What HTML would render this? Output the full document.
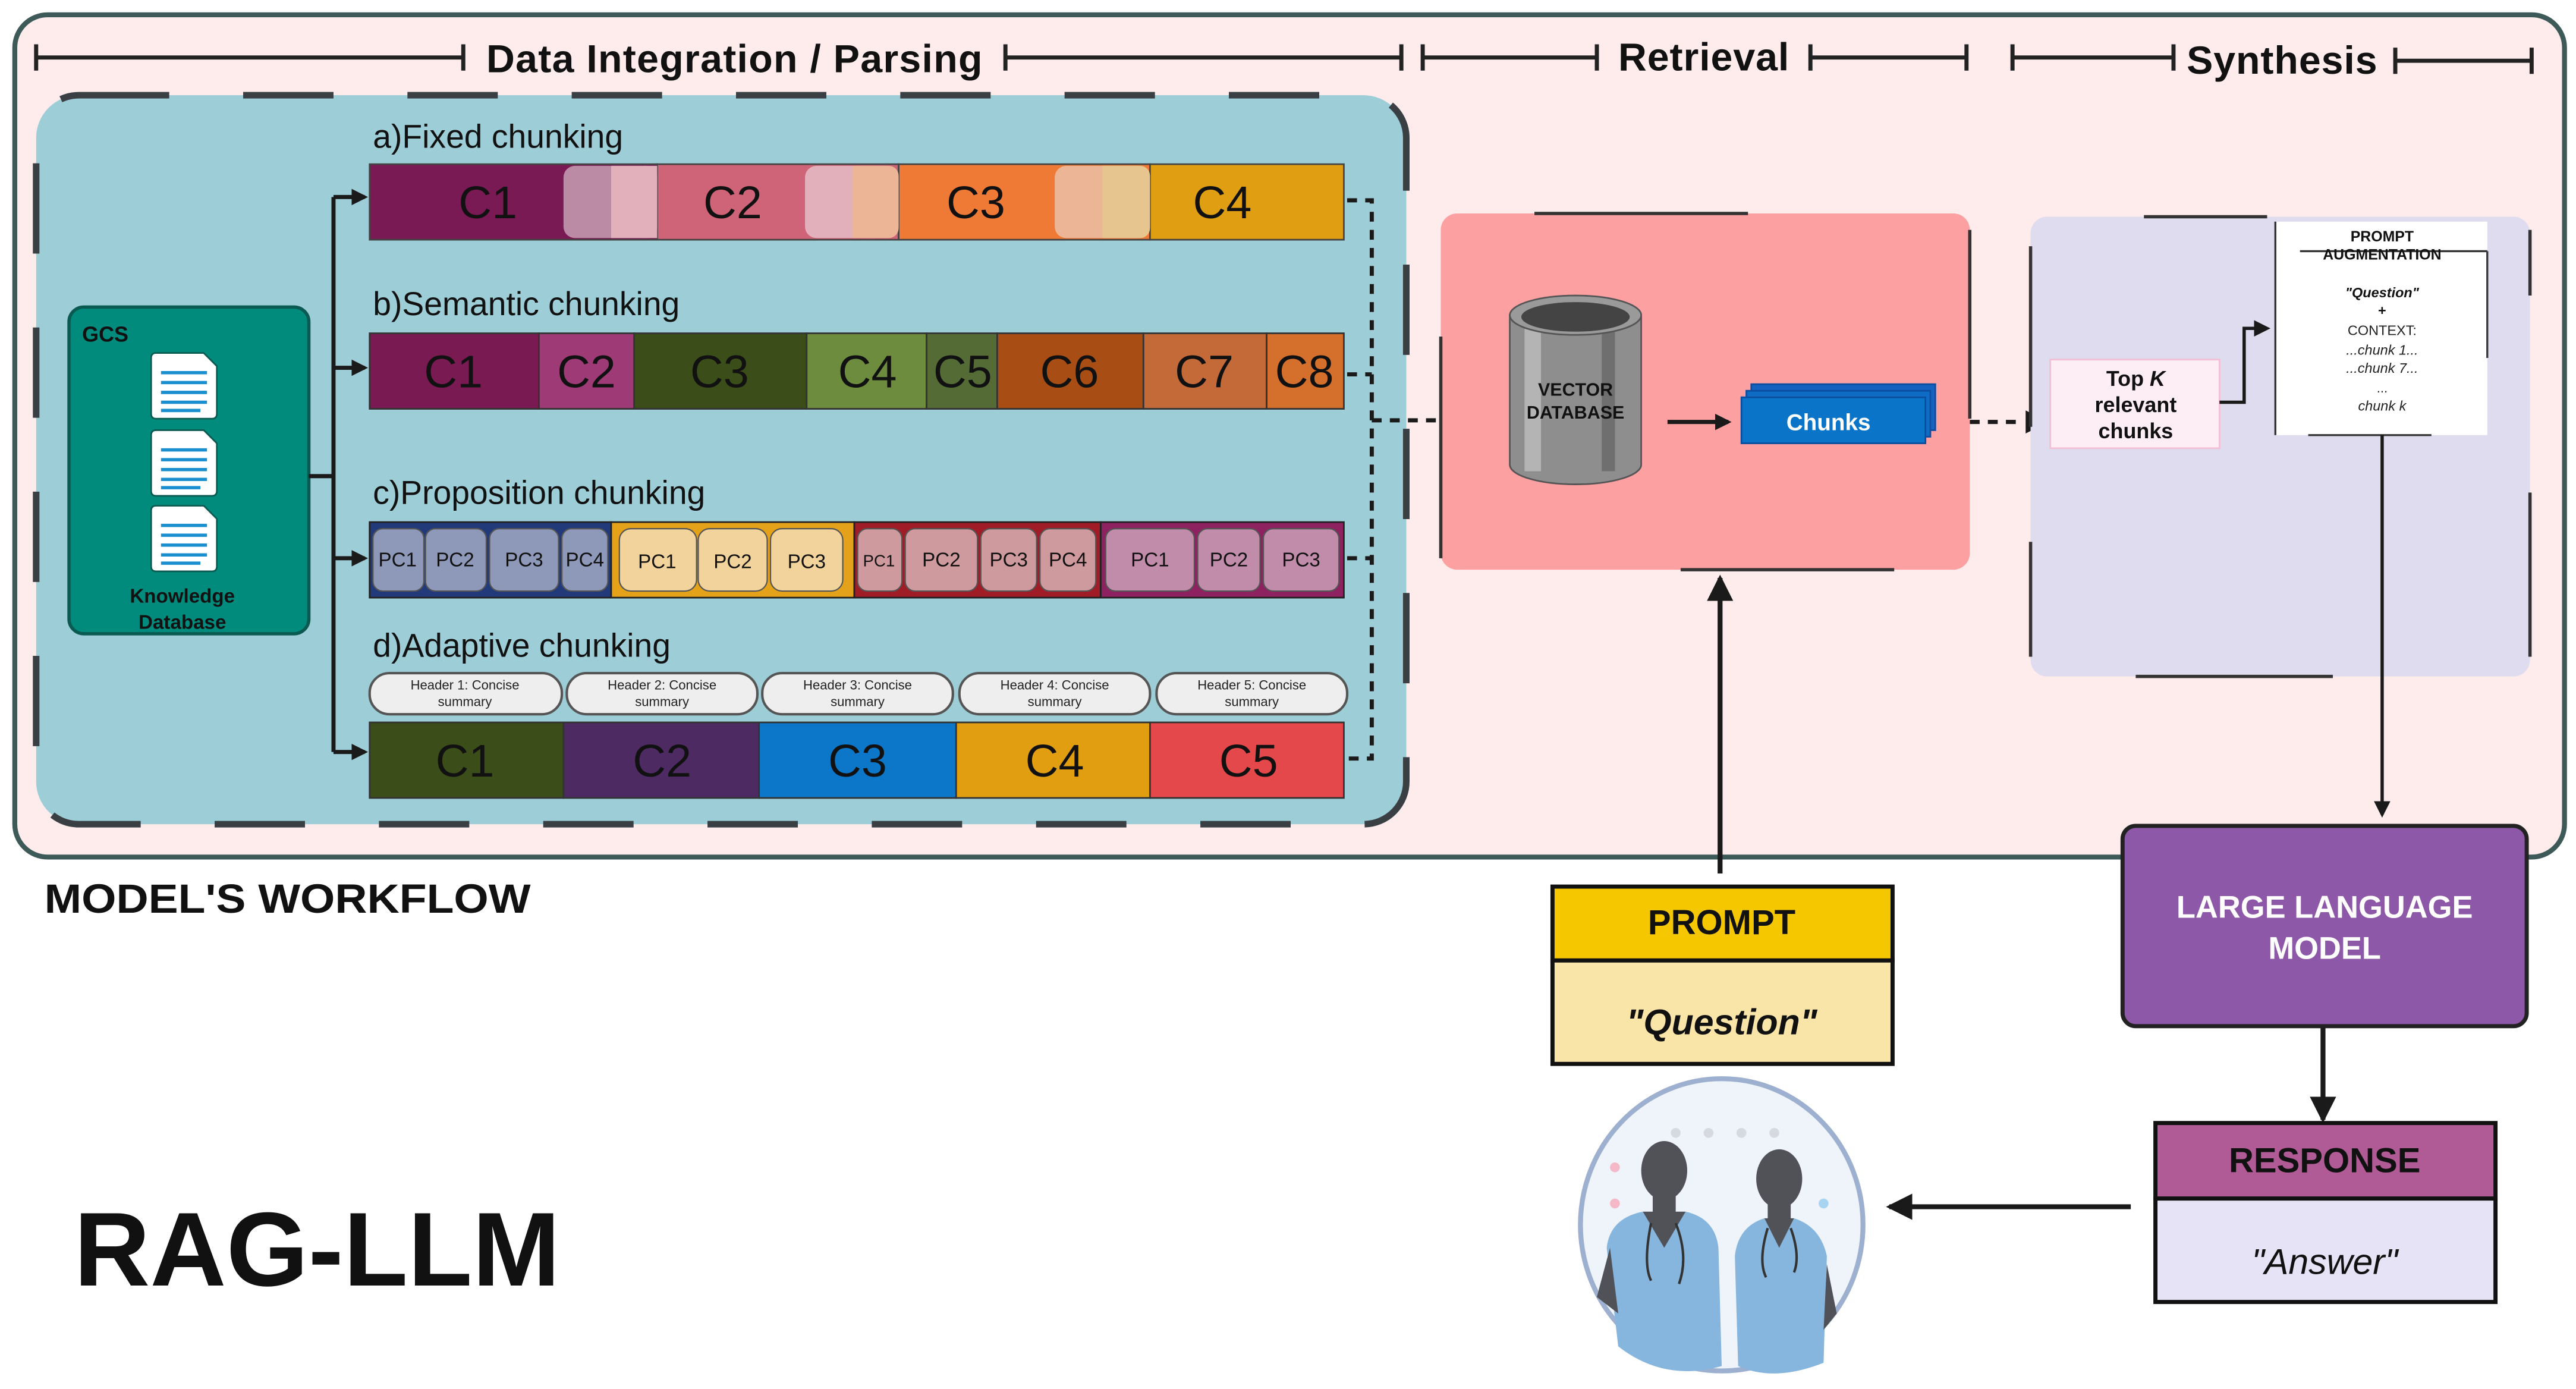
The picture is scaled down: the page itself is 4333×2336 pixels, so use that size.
<!DOCTYPE html>
<html><head><meta charset="utf-8"><style>
html,body{margin:0;padding:0;background:#fff;}
svg{display:block;}
text{font-family:"Liberation Sans",sans-serif;}
</style></head><body>
<svg width="4333" height="2336" viewBox="0 0 1568 846" preserveAspectRatio="none" xmlns="http://www.w3.org/2000/svg">
<defs>
<marker id="ah" markerWidth="10" markerHeight="10" refX="8" refY="5" orient="auto" markerUnits="userSpaceOnUse"><path d="M0,0 L10,5 L0,10 z" fill="#1a1a1a"/></marker>
<marker id="ahb" markerWidth="16" markerHeight="16" refX="14" refY="8" orient="auto" markerUnits="userSpaceOnUse"><path d="M0,0 L16,8 L0,16 z" fill="#1a1a1a"/></marker>
</defs>
<rect width="1568" height="846" fill="#fff"/>
<!-- outer -->
<rect x="9" y="9" width="1552" height="513" rx="20" fill="#fdeceb" stroke="#3d5a58" stroke-width="3"/>
<!-- header brackets -->
<g stroke="#222" stroke-width="2.5" fill="none">
<path d="M22,35 H282 M22,27 V43 M282,27 V43"/>
<path d="M612,35 H853 M612,27 V43 M853,27 V43"/>
<path d="M866,35 H972 M866,27 V43 M972,27 V43"/>
<path d="M1102,35 H1197 M1102,27 V43 M1197,27 V43"/>
<path d="M1225,35 H1323 M1225,27 V43 M1323,27 V43"/>
<path d="M1458,37 H1541 M1458,29 V45 M1541,29 V45"/>
</g>
<text x="447" y="44" text-anchor="middle" font-size="24" font-weight="bold" fill="#111" textLength="302">Data Integration / Parsing</text>
<text x="1037" y="43" text-anchor="middle" font-size="24" font-weight="bold" fill="#111" textLength="104">Retrieval</text>
<text x="1389" y="45" text-anchor="middle" font-size="24" font-weight="bold" fill="#111" textLength="116">Synthesis</text>
<!-- teal box -->
<rect x="22" y="58" width="834" height="444" rx="26" fill="#9dcdd7"/>
<rect x="22" y="58" width="834" height="444" rx="26" fill="none" stroke="#3a3f44" stroke-width="4" stroke-dasharray="55,45"/>
<!-- GCS -->
<rect x="42" y="187" width="146" height="199" rx="9" fill="#008b7d" stroke="#0b5a52" stroke-width="2"/>
<text x="50" y="208" font-size="13" font-weight="bold" fill="#111">GCS</text>
<g>
<g transform="translate(92,215)"><path d="M0,3 Q0,0 3,0 H32 L40,8 V37 Q40,40 37,40 H3 Q0,40 0,37 Z" fill="#fff" stroke="#0b5a52"/><g stroke="#1a8fd0" stroke-width="2"><path d="M6,12 H34 M6,18 H34 M6,24 H34 M6,30 H34 M6,35 H30"/></g></g>
<g transform="translate(92,262)"><path d="M0,3 Q0,0 3,0 H32 L40,8 V37 Q40,40 37,40 H3 Q0,40 0,37 Z" fill="#fff" stroke="#0b5a52"/><g stroke="#1a8fd0" stroke-width="2"><path d="M6,12 H34 M6,18 H34 M6,24 H34 M6,30 H34 M6,35 H30"/></g></g>
<g transform="translate(92,308)"><path d="M0,3 Q0,0 3,0 H32 L40,8 V37 Q40,40 37,40 H3 Q0,40 0,37 Z" fill="#fff" stroke="#0b5a52"/><g stroke="#1a8fd0" stroke-width="2"><path d="M6,12 H34 M6,18 H34 M6,24 H34 M6,30 H34 M6,35 H30"/></g></g>
</g>
<text x="111" y="367" text-anchor="middle" font-size="12" font-weight="bold" fill="#111">Knowledge</text>
<text x="111" y="383" text-anchor="middle" font-size="12" font-weight="bold" fill="#111">Database</text>
<!-- trunk -->
<g stroke="#1a1a1a" stroke-width="2.5" fill="none">
<path d="M188,290 H203 M203,120 V458"/>
<path d="M203,120 H222" marker-end="url(#ah)"/>
<path d="M203,224 H222" marker-end="url(#ah)"/>
<path d="M203,340 H222" marker-end="url(#ah)"/>
<path d="M203,458 H222" marker-end="url(#ah)"/>
</g>
<!-- row a -->
<text x="227" y="90" font-size="20" fill="#111">a)Fixed chunking</text>
<g stroke="#444" stroke-width="1">
<rect x="225" y="100" width="175" height="46" fill="#7a1a55"/>
<rect x="400" y="100" width="147" height="46" fill="#cf6377"/>
<rect x="547" y="100" width="153" height="46" fill="#ef7a35"/>
<rect x="700" y="100" width="118" height="46" fill="#e09f13"/>
</g>
<rect x="343" y="101" width="57" height="44" rx="7" fill="#bb8aa4"/><rect x="372" y="101" width="28" height="44" fill="#e2b0bb"/><rect x="386" y="101" width="14" height="44" rx="6" fill="#e2b0bb"/>
<rect x="490" y="101" width="57" height="44" rx="7" fill="#e2b0bb"/><rect x="519" y="101" width="28" height="44" rx="6" fill="#ecb595"/><rect x="519" y="101" width="14" height="44" fill="#ecb595"/>
<rect x="642" y="101" width="58" height="44" rx="7" fill="#ecb595"/><rect x="671" y="101" width="29" height="44" rx="6" fill="#e6c58e"/><rect x="671" y="101" width="14" height="44" fill="#e6c58e"/>
<g font-size="28" fill="#111" text-anchor="middle">
<text x="297" y="133">C1</text><text x="446" y="133">C2</text><text x="594" y="133">C3</text><text x="744" y="133">C4</text>
</g>
<!-- row b -->
<text x="227" y="192" font-size="20" fill="#111">b)Semantic chunking</text>
<g stroke="#333" stroke-width="1">
<rect x="225" y="203" width="103" height="46" fill="#7a1a52"/>
<rect x="328" y="203" width="58" height="46" fill="#9e3a76"/>
<rect x="386" y="203" width="105" height="46" fill="#3b4d18"/>
<rect x="491" y="203" width="73" height="46" fill="#6e8c3e"/>
<rect x="564" y="203" width="43" height="46" fill="#546b35"/>
<rect x="607" y="203" width="89" height="46" fill="#a84d14"/>
<rect x="696" y="203" width="75" height="46" fill="#c46a38"/>
<rect x="771" y="203" width="47" height="46" fill="#d46f2c"/>
</g>
<g font-size="28" fill="#111" text-anchor="middle">
<text x="276" y="236">C1</text><text x="357" y="236">C2</text><text x="438" y="236">C3</text><text x="528" y="236">C4</text><text x="586" y="236">C5</text><text x="651" y="236">C6</text><text x="733" y="236">C7</text><text x="794" y="236">C8</text>
</g>
<!-- row c -->
<text x="227" y="307" font-size="20" fill="#111">c)Proposition chunking</text>
<rect x="225" y="318" width="147" height="46" fill="#223a7a" stroke="#222"/>
<rect x="372" y="318" width="148" height="46" fill="#e3a21a" stroke="#222"/>
<rect x="520" y="318" width="150" height="46" fill="#a01c26" stroke="#222"/>
<rect x="670" y="318" width="148" height="46" fill="#8e2160" stroke="#222"/>
<g stroke="#555" stroke-width="0.8">
<rect x="227" y="322" width="31" height="38" rx="6" fill="#8e98b8"/><rect x="259" y="322" width="37" height="38" rx="6" fill="#8e98b8"/><rect x="298" y="322" width="42" height="38" rx="6" fill="#8e98b8"/><rect x="342" y="322" width="28" height="38" rx="6" fill="#8e98b8"/>
<rect x="377" y="322" width="47" height="38" rx="7" fill="#f2d39c"/><rect x="425" y="322" width="42" height="38" rx="7" fill="#f2d39c"/><rect x="469" y="322" width="44" height="38" rx="7" fill="#f2d39c"/>
<rect x="522" y="322" width="27" height="38" rx="6" fill="#cf9a9e"/><rect x="551" y="322" width="44" height="38" rx="6" fill="#cf9a9e"/><rect x="597" y="322" width="34" height="38" rx="6" fill="#cf9a9e"/><rect x="633" y="322" width="34" height="38" rx="6" fill="#cf9a9e"/>
<rect x="673" y="322" width="54" height="38" rx="6" fill="#c18ca9"/><rect x="729" y="322" width="38" height="38" rx="6" fill="#c18ca9"/><rect x="769" y="322" width="46" height="38" rx="6" fill="#c18ca9"/>
</g>
<g font-size="12" fill="#111" text-anchor="middle">
<text x="242" y="345">PC1</text><text x="277" y="345">PC2</text><text x="319" y="345">PC3</text><text x="356" y="345">PC4</text>
<text x="400" y="346">PC1</text><text x="446" y="346">PC2</text><text x="491" y="346">PC3</text>
<text x="535" y="345" font-size="10">PC1</text><text x="573" y="345">PC2</text><text x="614" y="345">PC3</text><text x="650" y="345">PC4</text>
<text x="700" y="345">PC1</text><text x="748" y="345">PC2</text><text x="792" y="345">PC3</text>
</g>
<!-- row d -->
<text x="227" y="400" font-size="20" fill="#111">d)Adaptive chunking</text>
<g fill="#eeeeee" stroke="#555" stroke-width="1.5">
<rect x="225" y="410" width="117" height="25" rx="12"/><rect x="345" y="410" width="116" height="25" rx="12"/><rect x="464" y="410" width="116" height="25" rx="12"/><rect x="584" y="410" width="116" height="25" rx="12"/><rect x="704" y="410" width="116" height="25" rx="12"/>
</g>
<g font-size="8" fill="#222" text-anchor="middle">
<text x="283" y="420">Header 1: Concise</text><text x="283" y="430">summary</text>
<text x="403" y="420">Header 2: Concise</text><text x="403" y="430">summary</text>
<text x="522" y="420">Header 3: Concise</text><text x="522" y="430">summary</text>
<text x="642" y="420">Header 4: Concise</text><text x="642" y="430">summary</text>
<text x="762" y="420">Header 5: Concise</text><text x="762" y="430">summary</text>
</g>
<g stroke="#333" stroke-width="1">
<rect x="225" y="440" width="118" height="46" fill="#3b4d18"/>
<rect x="343" y="440" width="119" height="46" fill="#4e2a63"/>
<rect x="462" y="440" width="120" height="46" fill="#0c76c8"/>
<rect x="582" y="440" width="118" height="46" fill="#e19e10"/>
<rect x="700" y="440" width="118" height="46" fill="#e5484b"/>
</g>
<g font-size="28" fill="#111" text-anchor="middle">
<text x="283" y="473">C1</text><text x="403" y="473">C2</text><text x="522" y="473">C3</text><text x="642" y="473">C4</text><text x="760" y="473">C5</text>
</g>
<!-- dashed connectors -->
<g stroke="#1a1a1a" stroke-width="2.5" fill="none" stroke-dasharray="6,5">
<path d="M820,122 H835 V462 H820"/>
<path d="M820,228 H835"/><path d="M820,340 H835"/>
<path d="M835,256 H900"/>
<path d="M1199,257 H1232"/>
</g>
<path d="M898,248 L915,256 L898,264 Z" fill="#1a1a1a"/>
<path d="M1233,250 L1247,257 L1233,264 Z" fill="#1a1a1a"/>
<!-- retrieval box -->
<rect x="877" y="130" width="322" height="217" rx="10" fill="#fda0a2"/>
<g stroke="#333" stroke-width="2" fill="none">
<path d="M934,130 H1064"/><path d="M1023,347 H1153"/><path d="M877,205 V340"/><path d="M1199,140 V255"/>
</g>
<!-- cylinder -->
<path d="M919,192 V283 A40,12 0 0 0 999,283 V192 Z" fill="#8e8e8e" stroke="#555"/>
<rect x="928" y="192" width="10" height="95" fill="#b4b4b4"/><rect x="975" y="192" width="8" height="95" fill="#6f6f6f"/>
<ellipse cx="959" cy="192" rx="40" ry="12" fill="#9a9a9a" stroke="#555"/>
<ellipse cx="959" cy="193" rx="33" ry="9" fill="#444"/>
<text x="959" y="241" text-anchor="middle" font-size="11" font-weight="bold" fill="#111">VECTOR</text>
<text x="959" y="255" text-anchor="middle" font-size="11" font-weight="bold" fill="#111">DATABASE</text>
<path d="M1015,257 H1052" stroke="#1a1a1a" stroke-width="2.5" marker-end="url(#ah)"/>
<rect x="1066" y="234" width="112" height="28" fill="#1463c0" stroke="#0b4d9e"/>
<rect x="1063" y="238" width="112" height="28" fill="#0f6cc5" stroke="#0b4d9e"/>
<rect x="1060" y="242" width="112" height="28" fill="#0a74c8" stroke="#0b4d9e"/>
<text x="1113" y="262" text-anchor="middle" font-size="14" font-weight="bold" fill="#fff">Chunks</text>
<!-- synthesis box -->
<rect x="1236" y="132" width="304" height="280" rx="10" fill="#dedcee"/>
<g stroke="#333" stroke-width="2" fill="none">
<path d="M1236,150 V260 M1236,330 V400 M1540,140 V180 M1540,300 V400 M1305,132 H1380 M1300,412 H1420"/>
</g>
<rect x="1248" y="219" width="103" height="54" fill="#fdeef5" stroke="#f4bfd4" stroke-width="1"/>
<text x="1300" y="235" text-anchor="middle" font-size="13" font-weight="bold" fill="#111">Top <tspan font-style="italic">K</tspan></text>
<text x="1300" y="251" text-anchor="middle" font-size="13" font-weight="bold" fill="#111">relevant</text>
<text x="1300" y="267" text-anchor="middle" font-size="13" font-weight="bold" fill="#111">chunks</text>
<path d="M1351,245 H1366 V200 H1380" stroke="#1a1a1a" stroke-width="2" fill="none" marker-end="url(#ah)"/>
<rect x="1385" y="135" width="129" height="130" fill="#fff"/>
<path d="M1385,135 V265 M1400,153 H1514 M1514,153 V218 M1405,265 H1480" stroke="#333" stroke-width="1.2" fill="none"/>
<text x="1450" y="147" text-anchor="middle" font-size="9" font-weight="bold" fill="#111">PROMPT</text>
<text x="1450" y="158" text-anchor="middle" font-size="9" font-weight="bold" fill="#111">AUGMENTATION</text>
<text x="1450" y="181" text-anchor="middle" font-size="8.5" font-weight="bold" font-style="italic" fill="#111">"Question"</text>
<text x="1450" y="192" text-anchor="middle" font-size="8.5" font-weight="bold" fill="#111">+</text>
<text x="1450" y="204" text-anchor="middle" font-size="8.5" fill="#222">CONTEXT:</text>
<text x="1450" y="216" text-anchor="middle" font-size="8.5" font-style="italic" fill="#222">...chunk 1...</text>
<text x="1450" y="227" text-anchor="middle" font-size="8.5" font-style="italic" fill="#222">...chunk 7...</text>
<text x="1450" y="239" text-anchor="middle" font-size="8" fill="#222">...</text>
<text x="1450" y="250" text-anchor="middle" font-size="8.5" font-style="italic" fill="#222">chunk k</text>
<path d="M1450,265 V496" stroke="#1a1a1a" stroke-width="2" fill="none" marker-end="url(#ah)"/>
<!-- LLM -->
<rect x="1292" y="503" width="246" height="122" rx="8" fill="#8e58a8" stroke="#222" stroke-width="2.5"/>
<text x="1415" y="559" text-anchor="middle" font-size="19" font-weight="bold" fill="#fff">LARGE LANGUAGE</text>
<text x="1415" y="584" text-anchor="middle" font-size="19" font-weight="bold" fill="#fff">MODEL</text>
<path d="M1414,626 V682" stroke="#1a1a1a" stroke-width="3" marker-end="url(#ahb)"/>
<!-- response -->
<rect x="1312" y="684" width="207" height="46" fill="#b05a96" stroke="#111" stroke-width="2.5"/>
<rect x="1312" y="730" width="207" height="63" fill="#e6e3f6" stroke="#111" stroke-width="2.5"/>
<text x="1415" y="714" text-anchor="middle" font-size="21" font-weight="bold" fill="#111">RESPONSE</text>
<text x="1415" y="776" text-anchor="middle" font-size="22" font-style="italic" fill="#111">"Answer"</text>
<path d="M1297,735 H1150" stroke="#1a1a1a" stroke-width="3" marker-end="url(#ahb)"/>
<!-- prompt -->
<rect x="945" y="540" width="207" height="45" fill="#f5c700" stroke="#111" stroke-width="2.5"/>
<rect x="945" y="585" width="207" height="63" fill="#fae5a8" stroke="#111" stroke-width="2.5"/>
<text x="1048" y="569" text-anchor="middle" font-size="21" font-weight="bold" fill="#111">PROMPT</text>
<text x="1048" y="630" text-anchor="middle" font-size="22" font-weight="bold" font-style="italic" fill="#111">"Question"</text>
<path d="M1047,532 V352" stroke="#1a1a1a" stroke-width="3" marker-end="url(#ahb)"/>
<!-- doctors circle -->
<ellipse cx="1048" cy="746" rx="86" ry="89" fill="#eef4f9" stroke="#9db0d0" stroke-width="3"/>
<g fill="#d6d9de"><circle cx="1020" cy="690" r="3"/><circle cx="1040" cy="690" r="3"/><circle cx="1060" cy="690" r="3"/><circle cx="1080" cy="690" r="3"/></g>
<circle cx="983" cy="711" r="3" fill="#f4b8c8"/><circle cx="983" cy="733" r="3" fill="#f4b8c8"/><circle cx="1110" cy="733" r="3" fill="#a8d4f2"/>
<!-- doctor 1 -->
<g>
<ellipse cx="1013" cy="713" rx="14" ry="18" fill="#505257"/>
<rect x="1006" y="726" width="14" height="16" fill="#505257"/>
<path d="M978,760 Q980,742 1000,738 L1013,750 L1026,738 Q1044,742 1046,760 L1048,832 Q1013,842 985,820 Z" fill="#86b5de"/>
<path d="M1000,738 L1013,760 L1026,738 Z" fill="#505257"/>
<path d="M972,790 L980,760 L985,800 Z" fill="#505257"/>
</g>
<!-- doctor 2 -->
<g>
<ellipse cx="1083" cy="718" rx="14" ry="18" fill="#505257"/>
<rect x="1076" y="730" width="14" height="14" fill="#505257"/>
<path d="M1056,765 Q1058,747 1074,742 L1083,754 L1092,742 Q1108,747 1112,765 L1110,830 Q1080,842 1058,832 Z" fill="#86b5de"/>
<path d="M1074,742 L1083,760 L1092,742 Z" fill="#505257"/>
<path d="M1112,770 L1118,800 L1110,810 Z" fill="#505257"/>
</g>
<g stroke="#333" stroke-width="1.5" fill="none"><path d="M1005,745 Q1000,770 1005,780 M1020,745 Q1028,765 1022,782"/><path d="M1076,748 Q1070,768 1075,778 M1090,748 Q1096,765 1092,775"/></g>
<!-- titles -->
<text x="27" y="556" font-size="25" font-weight="bold" fill="#111" textLength="296" lengthAdjust="spacingAndGlyphs">MODEL'S WORKFLOW</text>
<text x="45" y="783" font-size="64" font-weight="bold" fill="#111" textLength="296" lengthAdjust="spacingAndGlyphs">RAG-LLM</text>
</svg>
</body></html>
